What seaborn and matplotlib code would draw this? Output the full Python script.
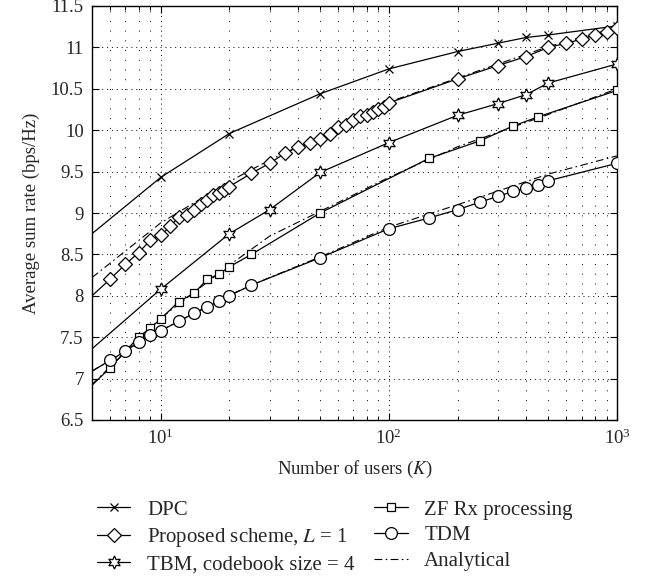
import numpy as np
import pandas as pd
import matplotlib
matplotlib.use("Agg")
import matplotlib.pyplot as plt
from matplotlib.lines import Line2D
from matplotlib.ticker import FixedLocator, FuncFormatter, LogLocator, NullFormatter
import seaborn as sns

# values (first point of each curve sits on the left edge)
k_dpc = [5, 10, 20, 50, 100, 200, 300, 400, 500, 1000]
rate_dpc = [8.75, 9.43, 9.96, 10.44, 10.74, 10.95, 11.05, 11.12, 11.15, 11.26]

k_prop = [5, 6, 7, 8, 9, 10, 11, 12, 13, 14, 15, 16, 17, 18, 19, 20,
          25, 30, 35, 40, 45, 50, 55, 60, 65, 70, 75, 80, 85, 90, 95, 100,
          200, 300, 400, 500, 600, 700, 800, 900, 1000]
rate_prop = [8.00, 8.20, 8.38, 8.52, 8.67, 8.73, 8.84, 8.95, 8.98, 9.04, 9.11, 9.16, 9.22, 9.24, 9.28, 9.32,
             9.48, 9.60, 9.72, 9.80, 9.84, 9.89, 9.95, 10.04, 10.06, 10.12, 10.17, 10.18, 10.22, 10.26, 10.28, 10.33,
             10.62, 10.78, 10.89, 11.00, 11.05, 11.10, 11.15, 11.18, 11.23]

k_tbm = [5, 10, 20, 30, 50, 100, 200, 300, 400, 500, 1000]
rate_tbm = [7.36, 8.08, 8.75, 9.04, 9.49, 9.85, 10.18, 10.32, 10.43, 10.57, 10.80]

k_zf = [5, 6, 7, 8, 9, 10, 12, 14, 16, 18, 20, 25, 50, 150, 250, 350, 450, 1000]
rate_zf = [6.92, 7.13, 7.33, 7.50, 7.61, 7.72, 7.93, 8.03, 8.20, 8.26, 8.35, 8.50, 9.00, 9.66, 9.87, 10.05, 10.16, 10.48]

k_tdm = [5, 6, 7, 8, 9, 10, 12, 14, 16, 18, 20, 25, 50, 100, 150, 200, 250, 300, 350, 400, 450, 500, 1000]
rate_tdm = [7.09, 7.22, 7.33, 7.44, 7.53, 7.58, 7.69, 7.79, 7.86, 7.94, 8.00, 8.13, 8.46, 8.81, 8.94, 9.04,
            9.13, 9.20, 9.26, 9.30, 9.34, 9.39, 9.60]

k_ana = [5, 10, 20, 30, 50, 100, 200, 500, 1000]
ana_prop = [8.22, 8.88, 9.38, 9.64, 9.92, 10.34, 10.63, 11.01, 11.24]
ana_zf = [6.93, 7.73, 8.37, 8.72, 9.02, 9.43, 9.80, 10.19, 10.50]
ana_tdm = [7.09, 7.58, 8.01, 8.22, 8.47, 8.83, 9.10, 9.47, 9.69]

labels = ["DPC", "Proposed scheme, $L$ = 1", "TBM, codebook size = 4", "ZF Rx processing", "TDM", "Analytical"]
markers = ["x", "D", (6, 1, 0), "s", "o"]
msizes = [6, 6.8, 9.5, 6, 8.5]

sns.set_theme(style="ticks")
plt.rcParams["font.family"] = ["Liberation Serif", "DejaVu Serif"]
plt.rcParams["mathtext.fontset"] = "stix"
fs = 13.5

fig = plt.figure(figsize=(6.54, 5.88), dpi=100)
ax = fig.add_axes([92 / 654, 1 - 420 / 588, 525 / 654, 414 / 588])

ana_style = dict(color="black", lw=0.8, linestyle=(0, (7, 3, 1.5, 3)), zorder=1)
for y in [ana_prop, ana_zf, ana_tdm]:
    sns.lineplot(x=k_ana, y=y, ax=ax, legend=False, **ana_style)

common = dict(color="black", lw=0.9, markerfacecolor="white", markeredgecolor="black",
              markeredgewidth=0.9)
series = [(k_dpc, rate_dpc), (k_prop, rate_prop), (k_tbm, rate_tbm), (k_zf, rate_zf), (k_tdm, rate_tdm)]
for (kx, ry), m, ms in zip(series, markers, msizes):
    sns.lineplot(x=kx, y=ry, ax=ax, marker=m, markersize=ms, legend=False, zorder=3,
                 markevery=slice(1, None), **common)

ax.set_xscale("log")
ax.set_xlim(5, 1000)
ax.set_ylim(6.5, 11.5)
ax.xaxis.set_major_locator(FixedLocator([10, 100, 1000]))
ax.xaxis.set_minor_locator(LogLocator(base=10, subs=np.arange(2, 10)))
ax.xaxis.set_minor_formatter(NullFormatter())
ax.yaxis.set_major_locator(FixedLocator(np.arange(6.5, 11.51, 0.5)))
ax.yaxis.set_major_formatter(FuncFormatter(lambda v, p: "%g" % v))

ax.grid(which="major", color="black", lw=0.7, linestyle=(0, (1, 4)))
ax.grid(which="minor", axis="x", color="black", lw=0.7, linestyle=(0, (1, 9)))
ax.tick_params(which="both", direction="in", top=True, right=True, labelsize=fs, color="black")
ax.tick_params(which="major", length=5, width=0.8, pad=6)
ax.tick_params(which="minor", length=3, width=0.7)
for s in ax.spines.values():
    s.set_color("black")
    s.set_linewidth(1.0)

ax.set_xlabel("Number of users ($K$)", fontsize=fs, labelpad=8)
ax.set_ylabel("Average sum rate (bps/Hz)", fontsize=fs, labelpad=8)

# legend proxies so each marker sits in the middle of its handle
handles = [Line2D([], [], marker=m, markersize=ms, **common) for m, ms in zip(markers, msizes)]
handles.append(Line2D([], [], **ana_style))
ax.legend(handles, labels, ncol=2, frameon=False, fontsize=15,
          loc="upper left", bbox_to_anchor=(97 / 654, 1 - 500 / 588), bbox_transform=fig.transFigure,
          borderaxespad=0, borderpad=0, handlelength=1.6, handletextpad=0.8,
          columnspacing=0.95, labelspacing=0.3)

fig.savefig("out.png", dpi=100)
